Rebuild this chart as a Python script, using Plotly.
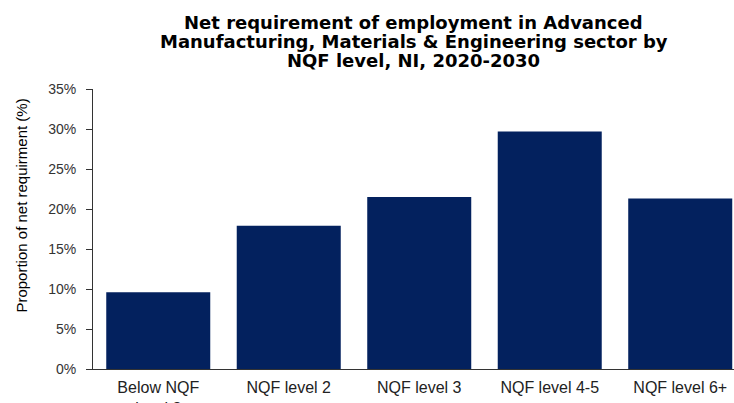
import plotly.graph_objects as go

categories = ["Below NQF<br>level 2", "NQF level 2", "NQF level 3", "NQF level 4-5", "NQF level 6+"]
values = [9.6, 17.9, 21.5, 29.7, 21.3]
y_ticks = [0, 5, 10, 15, 20, 25, 30, 35]

title_lines = [
    "Net requirement of employment in Advanced",
    "Manufacturing, Materials & Engineering sector by",
    "NQF level, NI, 2020-2030",
]

fig = go.Figure(go.Bar(
    x=list(range(len(categories))),
    y=values,
    marker=dict(color="#03215e", line=dict(width=0)),
    hoverinfo="skip",
))

fig.update_layout(
    width=734, height=403,
    margin=dict(l=93, r=0, t=89, b=34, autoexpand=False),
    paper_bgcolor="white", plot_bgcolor="white",
    bargap=0.203,
    showlegend=False,
    font=dict(family="Liberation Sans, Arial, sans-serif", color="#222"),
)

fig.update_xaxes(
    range=[-0.5, 4.412], automargin=False,
    tickmode="array", tickvals=list(range(len(categories))), ticktext=categories,
    showline=True, linecolor="#333", linewidth=1,
    ticks="", showgrid=False, zeroline=False,
    tickfont=dict(size=16, color="#222"),
    ticklabelstandoff=4,
)
fig.update_yaxes(
    range=[0, 35], automargin=False,
    tickmode="array", tickvals=y_ticks, ticktext=[f"{v}%" for v in y_ticks],
    showline=True, linecolor="#333", linewidth=1,
    ticks="outside", ticklen=6, tickcolor="#333",
    showgrid=False, zeroline=False,
    tickfont=dict(size=14, color="#333"),
    ticklabelstandoff=7,
)

# title lines (tight line spacing as in the reference)
plot_top, plot_h = 89, 280
for line, yc in zip(title_lines, [22.5, 41.5, 60.5]):
    fig.add_annotation(
        text=f"<b>{line}</b>", xref="paper", yref="paper",
        x=0.5, y=(plot_top + plot_h - yc) / plot_h,
        xanchor="center", yanchor="middle", showarrow=False,
        font=dict(size=18, color="black", family="DejaVu Sans, Liberation Sans, Arial, sans-serif"),
    )

fig.add_annotation(
    text="Proportion of net requirment (%)",
    textangle=-90, xref="paper", yref="paper",
    x=-0.113, y=(plot_top + plot_h - 206) / plot_h, xanchor="center", yanchor="middle",
    showarrow=False,
    font=dict(size=15, color="black", family="Liberation Sans, Arial, sans-serif"),
)

fig.write_html(
    "out.html",
    config={"displayModeBar": False},
    post_script="document.body.style.margin='0';document.body.style.overflow='hidden';",
)
